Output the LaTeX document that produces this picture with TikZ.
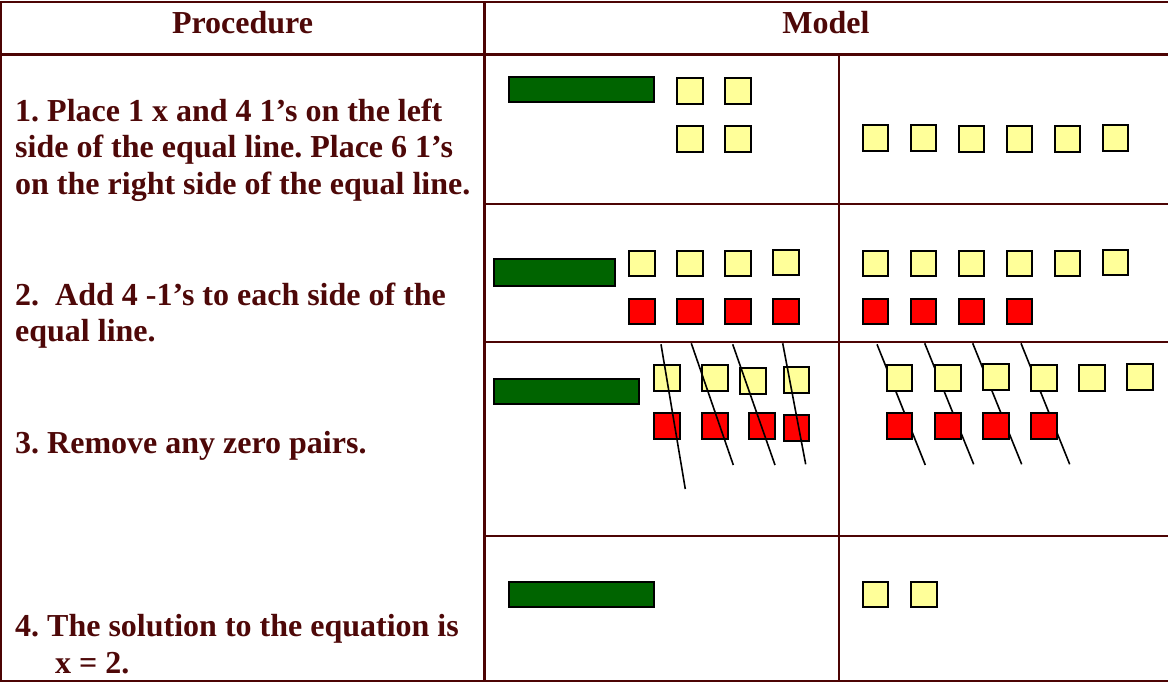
\documentclass[tikz,border=0pt]{standalone}
\usepackage{fontspec}
\setmainfont{Liberation Serif}
\frenchspacing
\definecolor{rule}{RGB}{76,4,4}
\definecolor{ink}{RGB}{78,8,8}
\definecolor{unitfill}{RGB}{255,255,153}
\definecolor{negfill}{RGB}{255,0,0}
\definecolor{varfill}{RGB}{0,100,0}
% one algebra tile: style, top-left corner
\newcommand\tileat[3]{\path[#1] (#2,#3) rectangle ++(25.5,25.5);}
\begin{document}
\begin{tikzpicture}[x=1pt,y=-1pt,
  grid/.style={draw=rule,line width=2.3pt},
  piece/.style={draw=black,line width=2pt},
  unitsq/.style={piece,fill=unitfill},
  negsq/.style={piece,fill=negfill},
  varbar/.style={piece,fill=varfill},
  strike/.style={draw=black,line width=1.6pt},
  txt/.style={anchor=base west,inner sep=0pt,text=ink,font=\fontsize{32}{36.5}\selectfont\bfseries},
  head/.style={anchor=base,inner sep=0pt,text=ink,font=\fontsize{32}{36.5}\selectfont\bfseries}]
\useasboundingbox (0,0) rectangle (1168,683);

% table rules (open on the right edge)
\draw[grid] (1168,1.8) -- (1.2,1.8) -- (1.2,681.3) -- (1168,681.3);
\draw[grid] (1.2,54.5) -- (1168,54.5);
\draw[grid] (484.5,1.8) -- (484.5,681.3);
\draw[grid] (839,54.5) -- (839,681.3);
\draw[grid] (484.5,204) -- (1168,204);
\draw[grid] (484.5,342) -- (1168,342);
\draw[grid] (484.5,536) -- (1168,536);

% headings
\node[head] (hproc) at (242.5,33) {Procedure};
\node[head] (hmodel) at (826,33) {Model};

% procedure steps
\node[txt] (s1a) at (15,121.7) {1. Place 1 x and 4 1’s on the left};
\node[txt] (s1b) at (15,157.7) {side of the equal line. Place 6 1’s};
\node[txt] (s1c) at (15,194.3) {on the right side of the equal line.};
\node[txt] (s2a) at (15,305) {2.~ Add 4 -1’s to each side of the};
\node[txt] (s2b) at (15,341.7) {equal line.};
\node[txt] (s3) at (15,453.3) {3. Remove any zero pairs.};
\node[txt] (s4a) at (15,636.7) {4. The solution to the equation is};
\node[txt] (s4b) at (55,673.3) {x = 2.};

% step 1
\path[varbar] (509,77) rectangle (654,102);
\tileat{unitsq}{677}{78.3}
\tileat{unitsq}{725}{78.3}
\tileat{unitsq}{677}{126}
\tileat{unitsq}{725}{126}
\foreach \x/\y in {862.7/125,910.7/125,958.7/126,1006.7/126,1054.7/126,1102.7/125}
  {\tileat{unitsq}{\x}{\y}}

% step 2
\path[varbar] (494.3,258.7) rectangle (615.3,285.7);
\foreach \x/\y in {629.3/250.7,677.3/250.7,725.3/250.7,773.3/249.7}
  {\tileat{unitsq}{\x}{\y}}
\foreach \x in {629.3,677.3,725.3,773.3}
  {\tileat{negsq}{\x}{298.7}}
\foreach \x/\y in {862.7/250.7,910.7/250.7,958.7/250.7,1006.7/250.7,1054.7/250.7,1102.7/249.7}
  {\tileat{unitsq}{\x}{\y}}
\foreach \x in {862.7,910.7,958.7,1006.7}
  {\tileat{negsq}{\x}{298.7}}

% step 3, left side: strokes drawn over the tiles
\path[varbar] (494.3,378.7) rectangle (638.7,404.3);
\foreach \x/\y in {654.3/365,702.3/365,740.3/368.3,783.7/367.3}
  {\tileat{unitsq}{\x}{\y}}
\foreach \x/\y in {654.3/413.3,702.3/413.3,749/413.3,783.7/415.3}
  {\tileat{negsq}{\x}{\y}}
\draw[strike] (661,344.3) -- (685.3,489);
\draw[strike] (691.3,343.3) -- (733.3,465);
\draw[strike] (732.7,344.3) -- (775,465);
\draw[strike] (782.7,343.3) -- (805.7,464.3);

% step 3, right side: tiles drawn over the strokes
\draw[strike] (877,344.3) -- (925.3,465);
\draw[strike] (924.7,343.3) -- (973.7,464.3);
\draw[strike] (972.7,343.3) -- (1021.7,464.3);
\draw[strike] (1021,343.3) -- (1069.7,464.3);
\foreach \x/\y in {886.7/365,935/365,983/364.3,1031/365.3,1079/365.3,1127/364.3}
  {\tileat{unitsq}{\x}{\y}}
\foreach \x in {886.7,935,983,1031}
  {\tileat{negsq}{\x}{413.3}}

% step 4
\path[varbar] (509,581.7) rectangle (654.3,607.3);
\tileat{unitsq}{862.7}{581.7}
\tileat{unitsq}{911}{581.7}
\end{tikzpicture}
\end{document}
